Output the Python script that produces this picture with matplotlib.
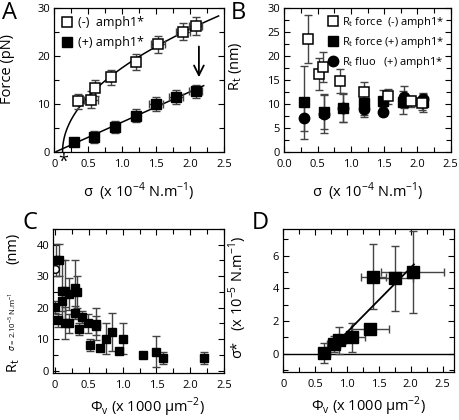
import numpy as np
import matplotlib
matplotlib.use('Agg')
import matplotlib.pyplot as plt
from matplotlib.ticker import MultipleLocator, FuncFormatter

plt.rcParams['font.family'] = ['Open Sans', 'DejaVu Sans']
plt.rcParams['mathtext.fontset'] = 'dejavusans'
plt.rcParams['axes.linewidth'] = 0.9

# ---- A: force vs sigma
a_sig_minus = [0.35, 0.54, 0.60, 0.83, 1.20, 1.53, 1.90, 2.08]
a_f_minus = [10.5, 10.9, 13.3, 15.6, 18.8, 22.5, 25.1, 26.3]
a_ferr_minus = [1.5, 1.7, 1.6, 1.6, 1.7, 1.8, 1.8, 1.8]
a_serr_minus = [0.06, 0.10, 0.05, 0.05, 0.05, 0.10, 0.10, 0.10]
a_sig_plus = [0.29, 0.59, 0.89, 1.20, 1.50, 1.79, 2.08]
a_f_plus = [2.0, 3.1, 5.2, 7.5, 10.0, 11.4, 12.6]
a_ferr_plus = [0.6, 1.3, 1.3, 1.4, 1.5, 1.5, 1.4]
a_serr_plus = [0.05, 0.05, 0.05, 0.05, 0.10, 0.10, 0.10]

# ---- B: tube radius vs sigma
b_sig_open = [0.35, 0.52, 0.58, 0.83, 1.20, 1.55, 1.90, 2.07]
b_rt_open = [23.6, 16.3, 17.7, 14.8, 12.5, 11.6, 10.5, 10.1]
b_err_open = [5.1, 3.3, 3.2, 2.5, 2.0, 1.6, 1.2, 1.4]
b_sig_sq = [0.30, 0.60, 0.88, 1.20, 1.48, 1.78, 2.08]
b_rt_sq = [10.3, 8.4, 9.2, 10.2, 10.7, 10.3, 10.3]
b_err_sq = [7.7, 3.6, 3.0, 2.5, 2.3, 2.5, 2.0]
b_sig_fluo = [0.30, 0.60, 0.88, 1.20, 1.48, 1.80, 2.08]
b_rt_fluo = [7.1, 7.9, 9.1, 8.9, 8.4, 11.5, 11.0]
b_err_fluo = [2.8, 4.0, 3.0, 1.6, 1.0, 2.3, 1.0]

# ---- C: radius at sigma = 2e-5 vs density
c_phi = [0.00, 0.02, 0.06, 0.05, 0.10, 0.10, 0.15, 0.15, 0.20, 0.20, 0.30, 0.32,
         0.30, 0.35, 0.40, 0.49, 0.51, 0.60, 0.60, 0.66, 0.75, 0.85, 0.95, 1.00,
         1.30, 1.50, 1.60, 2.20]
c_rt = [20.2, 35.2, 35.2, 16.0, 25.2, 22.0, 25.2, 15.1, 24.4, 15.1, 26.2, 25.0,
        18.4, 13.2, 17.1, 15.1, 8.2, 14.9, 14.3, 7.2, 10.2, 12.2, 6.2, 10.2,
        5.0, 6.1, 4.1, 4.1]
c_err = [2.0, 5.0, 5.0, 2.0, 10.0, 3.0, 10.0, 5.0, 5.0, 3.0, 9.0, 5.0,
         2.0, 2.0, 2.0, 3.0, 2.0, 5.0, 3.0, 1.0, 5.0, 6.0, 0.8, 5.0,
         0.8, 5.0, 2.0, 2.0]
c_phi_open = [0.00]
c_rt_open = [32.3]

# ---- D: sigma* vs density
d_phi = [0.645, 0.79, 0.88, 1.075, 1.36, 1.415, 1.76, 2.03]
d_sig = [0.02, 0.57, 0.80, 1.00, 1.50, 4.70, 4.60, 5.00]
d_sig_err = [0.6, 0.5, 0.8, 0.9, 0.2, 2.0, 2.0, 2.5]
d_phi_err = [0.08, 0.10, 0.10, 0.20, 0.30, 0.20, 0.27, 0.50]

fig = plt.figure(figsize=(4.6, 4.2), dpi=100)
axA = fig.add_axes([0.118, 0.639, 0.369, 0.341])
axB = fig.add_axes([0.618, 0.639, 0.362, 0.341])
axC = fig.add_axes([0.116, 0.112, 0.371, 0.343])
axD = fig.add_axes([0.616, 0.114, 0.371, 0.341])

ecol = '#444444'
ekw = dict(fmt='none', ecolor=ecol, elinewidth=1.0, capsize=3, capthick=1.0)
zero_fmt = FuncFormatter(lambda v, p: '0' if abs(v) < 1e-9 else '%.1f' % v)


def style(ax, xmaj, xmin, ymaj, ymin):
    ax.xaxis.set_major_locator(MultipleLocator(xmaj))
    ax.xaxis.set_minor_locator(MultipleLocator(xmin))
    ax.yaxis.set_major_locator(MultipleLocator(ymaj))
    ax.yaxis.set_minor_locator(MultipleLocator(ymin))
    ax.tick_params(which='both', direction='in', top=True, right=True,
                   labelsize=8, width=0.8, pad=3)
    ax.tick_params(axis='x', which='both', pad=5)
    ax.tick_params(which='major', length=4)
    ax.tick_params(which='minor', length=3.5)


sig_lab = 'σ  (x 10$^{\\mathregular{-4}}$ N.m$^{\\mathregular{-1}}$)'
phi_lab = 'Φ$_{\\mathregular{v}}$ (x 1000 µm$^{\\mathregular{-2}}$)'
lab_fs = 10.5

# A
k2 = np.polyfit(a_sig_minus, np.array(a_f_minus) ** 2, 1)
x0m = -k2[1] / k2[0]
xs = x0m + (2.42 - x0m) * np.linspace(0, 1, 200) ** 2
axA.plot(xs, np.sqrt(np.clip(np.polyval(k2, xs), 0, None)), color='k', lw=1.1)
k1 = np.polyfit(a_sig_plus, a_f_plus, 1)
xl = np.array([-k1[1] / k1[0], 2.2])
axA.plot(xl, np.polyval(k1, xl), color='k', lw=1.1)
axA.errorbar(a_sig_minus, a_f_minus, yerr=a_ferr_minus, xerr=a_serr_minus, **ekw)
axA.errorbar(a_sig_plus, a_f_plus, yerr=a_ferr_plus, xerr=a_serr_plus, **ekw)
hm, = axA.plot(a_sig_minus, a_f_minus, 's', ms=7, mfc='white', mec='k', mew=1.1,
               label='(-)  amph1*')
hp, = axA.plot(a_sig_plus, a_f_plus, 's', ms=7, mfc='k', mec='k', label='(+) amph1*')
axA.annotate('', xy=(2.13, 15.0), xytext=(2.13, 22.6),
             arrowprops=dict(arrowstyle='->,head_length=0.7,head_width=0.35',
                             color='k', lw=1.3))
axA.annotate('*', xy=(0.13, 0), xytext=(0, -1), textcoords='offset points',
             ha='center', va='top', fontsize=13, annotation_clip=False)
axA.set_xlim(0, 2.5)
axA.set_ylim(0, 30)
style(axA, 0.5, 0.25, 10, 5)
axA.xaxis.set_major_formatter(zero_fmt)
axA.set_ylabel('Force (pN)', fontsize=lab_fs)
axA.set_xlabel(sig_lab, fontsize=lab_fs)
axA.yaxis.set_label_coords(-0.23, 0.58)
axA.xaxis.set_label_coords(0.5, -0.2)
axA.legend(handles=[hm, hp], loc='upper left', frameon=False, fontsize=9,
           handlelength=0.8, handletextpad=0.5, borderaxespad=0.2, labelspacing=0.6)

# B
axB.errorbar(b_sig_fluo, b_rt_fluo, yerr=b_err_fluo, **ekw)
axB.errorbar(b_sig_sq, b_rt_sq, yerr=b_err_sq, **ekw)
axB.errorbar(b_sig_open, b_rt_open, yerr=b_err_open, **ekw)
h1, = axB.plot(b_sig_open, b_rt_open, 's', ms=7, mfc='white', mec='k', mew=1.1,
               label='R$_{\\mathregular{t}}$ force  (-) amph1*', zorder=5)
h2, = axB.plot(b_sig_sq, b_rt_sq, 's', ms=7, mfc='k', mec='k',
               label='R$_{\\mathregular{t}}$ force (+) amph1*', zorder=3)
h3, = axB.plot(b_sig_fluo, b_rt_fluo, 'o', ms=7.5, mfc='k', mec='k',
               label='R$_{\\mathregular{t}}$ fluo   (+) amph1*', zorder=4)
axB.set_xlim(0, 2.5)
axB.set_ylim(0, 30)
style(axB, 0.5, 0.25, 5, 2.5)
axB.xaxis.set_major_formatter(matplotlib.ticker.FormatStrFormatter('%.1f'))
axB.set_ylabel('R$_{\\mathregular{t}}$ (nm)', fontsize=lab_fs)
axB.set_xlabel(sig_lab, fontsize=lab_fs)
axB.yaxis.set_label_coords(-0.24, 0.6)
axB.xaxis.set_label_coords(0.5, -0.2)
axB.legend(handles=[h1, h2, h3], loc='upper right', frameon=False, fontsize=8,
           handlelength=0.8, handletextpad=0.4, borderaxespad=0.2, labelspacing=0.45)

# C
axC.errorbar(c_phi, c_rt, yerr=c_err, **ekw)
axC.plot(c_phi, c_rt, 's', ms=5.5, mfc='k', mec='k')
axC.plot(c_phi_open, c_rt_open, 'o', ms=5.5, mfc='white', mec='k', mew=1.0)
axC.set_xlim(-0.025, 2.5)
axC.set_ylim(-0.7, 45)
style(axC, 0.5, 0.25, 10, 5)
axC.xaxis.set_major_formatter(zero_fmt)
axC.set_xlabel(phi_lab, fontsize=lab_fs)
axC.xaxis.set_label_coords(0.55, -0.155)
# y label built from three pieces (small superscript condition)
fig.text(0.029, 0.112, 'R$_{\\mathregular{t}}$', rotation=90, fontsize=lab_fs,
         ha='center', va='bottom')
fig.text(0.026, 0.165, '$\\sigma$ = 2.10$^{\\mathregular{-5}}$ N.m$^{\\mathregular{-1}}$',
         rotation=90, fontsize=5.5, ha='center', va='bottom')
fig.text(0.029, 0.446, '(nm)', rotation=90, fontsize=lab_fs, ha='center', va='top')

# D
kd = np.polyfit(d_phi, d_sig, 1)
xd = np.array([0.9, 2.05])
axD.axhline(0, color='k', lw=1.0)
axD.errorbar(d_phi, d_sig, yerr=d_sig_err, xerr=d_phi_err, **ekw)
axD.plot(xd, np.polyval(kd, xd), color='k', lw=1.3)
axD.plot(d_phi, d_sig, 's', ms=8, mfc='k', mec='k')
axD.set_xlim(0, 2.68)
axD.set_ylim(-1.14, 7.64)
style(axD, 0.5, 0.25, 2, 1)
axD.xaxis.set_major_formatter(zero_fmt)
axD.set_ylabel('σ*   (x 10$^{\\mathregular{-5}}$ N.m$^{\\mathregular{-1}}$)', fontsize=lab_fs)
axD.set_xlabel(phi_lab, fontsize=lab_fs)
axD.yaxis.set_label_coords(-0.2, 0.52)
axD.xaxis.set_label_coords(0.5, -0.155)

for t, x, y in [('A', 0.004, 0.998), ('B', 0.502, 0.998), ('C', 0.05, 0.498), ('D', 0.548, 0.498)]:
    fig.text(x, y, t, fontsize=17, ha='left', va='top')

fig.savefig('out.png', dpi=100)
